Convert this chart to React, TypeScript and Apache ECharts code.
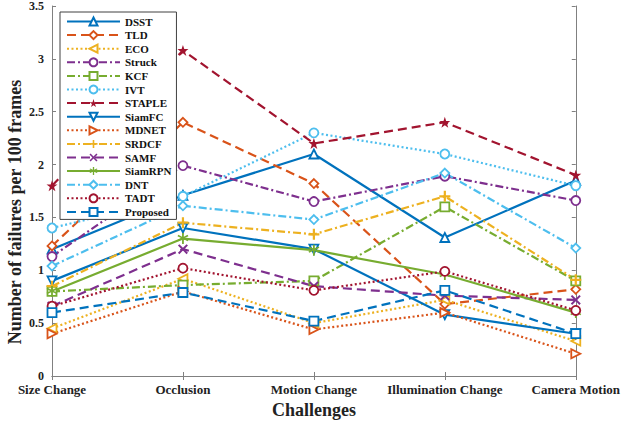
import React, { useEffect, useRef } from "react";
import * as echarts from "echarts";

const categories = ["Size Change", "Occlusion", "Motion Change", "Illumination Change", "Camera Motion"];
const yTicks = [0, 0.5, 1, 1.5, 2, 2.5, 3, 3.5];
const yTitle = "Number of failures per 100 frames";
const xTitle = "Challenges";

const DSST = [1.2, 1.71, 2.1, 1.31, 1.85];
const TLD = [1.23, 2.4, 1.82, 0.68, 0.82];
const ECO = [0.45, 0.92, 0.5, 0.72, 0.33];
const Struck = [1.13, 1.99, 1.65, 1.89, 1.66];
const KCF = [0.8, 0.86, 0.9, 1.6, 0.9];
const IVT = [1.4, 1.7, 2.3, 2.1, 1.8];
const STAPLE = [1.8, 3.08, 2.2, 2.4, 1.9];
const SiamFC = [0.9, 1.4, 1.2, 0.58, 0.4];
const MDNET = [0.4, 0.8, 0.44, 0.6, 0.21];
const SRDCF = [0.85, 1.45, 1.34, 1.7, 0.91];
const SAMF = [0.66, 1.2, 0.85, 0.76, 0.72];
const SiamRPN = [0.8, 1.3, 1.19, 0.96, 0.6];
const DNT = [1.04, 1.61, 1.48, 1.92, 1.21];
const TADT = [0.66, 1.02, 0.81, 0.99, 0.62];
const Proposed = [0.6, 0.79, 0.52, 0.81, 0.4];

const C = {
  blue: "#0072BD",
  orange: "#D95319",
  yellow: "#EDB120",
  purple: "#7E2F8E",
  green: "#77AC30",
  cyan: "#4DBEEE",
  red: "#A2142F",
};

const SOLID = "solid";
const DASH = [9, 5];
const DOT = [2, 2.5];
const DASHDOT = [8, 3, 2, 3];

const SYM = {
  triUp: "path://M5,0 L10,9 L0,9 Z",
  triDown: "path://M0,0 L10,0 L5,9 Z",
  triLeft: "path://M9,0 L9,10 L0,5 Z",
  triRight: "path://M0,0 L0,10 L9,5 Z",
  diamond: "path://M5,0 L10,5 L5,10 L0,5 Z",
  circle: "circle",
  square: "rect",
  plus: "path://M4,0 L6,0 L6,4 L10,4 L10,6 L6,6 L6,10 L4,10 L4,6 L0,6 L0,4 L4,4 Z",
  cross: "path://M1.4,0 L5,3.6 L8.6,0 L10,1.4 L6.4,5 L10,8.6 L8.6,10 L5,6.4 L1.4,10 L0,8.6 L3.6,5 L0,1.4 Z",
  star: "path://M5,0 L6.2,3.6 L10,3.6 L6.9,5.9 L8.1,9.5 L5,7.3 L1.9,9.5 L3.1,5.9 L0,3.6 L3.8,3.6 Z",
  asterisk: "path://M4.3,0 L5.7,0 L5.7,3.3 L8.6,1.6 L9.3,2.8 L6.4,4.5 L9.3,6.2 L8.6,7.4 L5.7,5.7 L5.7,10 L4.3,10 L4.3,5.7 L1.4,7.4 L0.7,6.2 L3.6,4.5 L0.7,2.8 L1.4,1.6 L4.3,3.3 Z",
};

type Def = { name: string; data: number[]; color: string; type: any; symbol: string; filled?: boolean; size?: number };

const defs: Def[] = [
  { name: "DSST", data: DSST, color: C.blue, type: SOLID, symbol: SYM.triUp },
  { name: "TLD", data: TLD, color: C.orange, type: DASH, symbol: SYM.diamond },
  { name: "ECO", data: ECO, color: C.yellow, type: DOT, symbol: SYM.triLeft },
  { name: "Struck", data: Struck, color: C.purple, type: DASHDOT, symbol: SYM.circle },
  { name: "KCF", data: KCF, color: C.green, type: DASHDOT, symbol: SYM.square },
  { name: "IVT", data: IVT, color: C.cyan, type: DOT, symbol: SYM.circle },
  { name: "STAPLE", data: STAPLE, color: C.red, type: DASH, symbol: SYM.star, filled: true, size: 11 },
  { name: "SiamFC", data: SiamFC, color: C.blue, type: SOLID, symbol: SYM.triDown },
  { name: "MDNET", data: MDNET, color: C.orange, type: DOT, symbol: SYM.triRight },
  { name: "SRDCF", data: SRDCF, color: C.yellow, type: DASHDOT, symbol: SYM.plus, filled: true, size: 11 },
  { name: "SAMF", data: SAMF, color: C.purple, type: DASH, symbol: SYM.cross, filled: true, size: 10 },
  { name: "SiamRPN", data: SiamRPN, color: C.green, type: SOLID, symbol: SYM.asterisk, filled: true, size: 11 },
  { name: "DNT", data: DNT, color: C.cyan, type: DASHDOT, symbol: SYM.diamond },
  { name: "TADT", data: TADT, color: C.red, type: DOT, symbol: SYM.circle },
  { name: "Proposed", data: Proposed, color: C.blue, type: DASH, symbol: SYM.square },
];

const FONT = "'Liberation Serif', 'Times New Roman', serif";
const AXIS_COLOR = "#808080";
const TEXT_COLOR = "#222222";

export default function App() {
  const ref = useRef<HTMLDivElement>(null);
  useEffect(() => {
    if (!ref.current) return;
    const chart = echarts.init(ref.current, undefined, { renderer: "svg" });
    const series = defs.map((d) => ({
      name: d.name,
      type: "line",
      data: d.data,
      symbol: d.symbol,
      symbolSize: d.size ?? 9,
      showAllSymbol: true,
      lineStyle: { color: d.color, width: 2.2, type: d.type },
      itemStyle: d.filled
        ? { color: d.color, borderColor: d.color, borderWidth: 0 }
        : { color: "#ffffff", borderColor: d.color, borderWidth: 1.8 },
      emphasis: { disabled: true },
      z: 2,
    }));
    chart.setOption({
      animation: false,
      backgroundColor: "#ffffff",
      grid: { left: 52, right: 44, top: 5, bottom: 47, containLabel: false },
      legend: {
        orient: "vertical",
        left: 60,
        top: 12,
        padding: [4, 5, 2, 6],
        backgroundColor: "#ffffff",
        borderColor: "#404040",
        borderWidth: 1,
        borderRadius: 0,
        itemWidth: 53,
        itemHeight: 10,
        itemGap: 2.6,
        textStyle: { fontFamily: FONT, fontWeight: "bold", fontSize: 11, lineHeight: 10, color: "#111" },
        data: defs.map((d) => d.name),
      },
      graphic: [
        {
          type: "text",
          x: 15,
          y: 212,
          rotation: Math.PI / 2,
          style: {
            text: yTitle,
            align: "center",
            verticalAlign: "middle",
            fontFamily: FONT,
            fontWeight: "bold",
            fontSize: 18,
            fill: TEXT_COLOR,
          },
        },
      ],
      xAxis: [
        {
          type: "category",
          data: categories,
          boundaryGap: false,
          axisLine: { lineStyle: { color: AXIS_COLOR, width: 1 } },
          axisTick: { inside: true, length: 4, interval: 0, lineStyle: { color: AXIS_COLOR } },
          axisLabel: { interval: 0, fontFamily: FONT, fontWeight: "bold", fontSize: 13, color: TEXT_COLOR, margin: 7 },
          name: xTitle,
          nameLocation: "middle",
          nameGap: 25,
          nameTextStyle: { fontFamily: FONT, fontWeight: "bold", fontSize: 18, color: TEXT_COLOR },
          splitLine: { show: false },
        },
        {
          type: "category",
          data: categories,
          boundaryGap: false,
          position: "top",
          axisLine: { lineStyle: { color: AXIS_COLOR, width: 1 } },
          axisTick: { inside: true, length: 4, interval: 0, lineStyle: { color: AXIS_COLOR } },
          axisLabel: { show: false, interval: 0 },
          splitLine: { show: false },
        },
      ],
      yAxis: [
        {
          type: "value",
          min: 0,
          max: 3.5,
          interval: 0.5,
          axisLine: { show: true, lineStyle: { color: AXIS_COLOR, width: 1 } },
          axisTick: { show: true, inside: true, length: 4, lineStyle: { color: AXIS_COLOR } },
          axisLabel: {
            fontFamily: FONT,
            fontWeight: "bold",
            fontSize: 12,
            color: TEXT_COLOR,
            margin: 8,
            formatter: (v: number) => (yTicks.includes(v) ? String(v) : ""),
          },
          splitLine: { show: false },
        },
        {
          type: "value",
          min: 0,
          max: 3.5,
          interval: 0.5,
          position: "right",
          axisLine: { show: true, lineStyle: { color: AXIS_COLOR, width: 1 } },
          axisTick: { show: true, inside: true, length: 4, lineStyle: { color: AXIS_COLOR } },
          axisLabel: { show: false },
          splitLine: { show: false },
        },
      ],
      series,
    });
    return () => chart.dispose();
  }, []);
  return <div ref={ref} style={{ position: "absolute", left: 0, top: 0, width: 623, height: 424 }} />;
}
